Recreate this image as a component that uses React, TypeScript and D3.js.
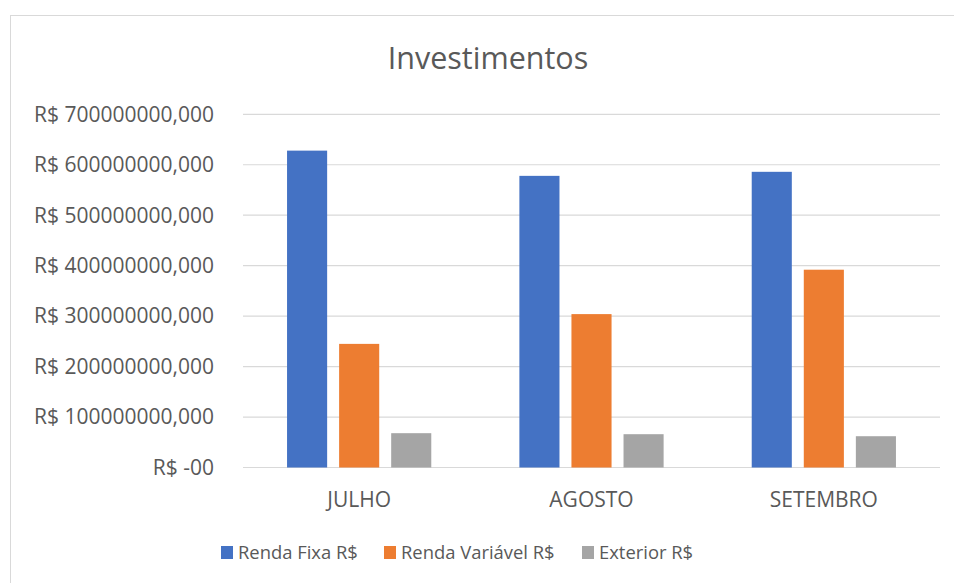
import React, { useEffect, useRef } from 'react';
import * as d3 from 'd3';

const months = ['JULHO', 'AGOSTO', 'SETEMBRO'];
const seriesNames = ['Renda Fixa R$', 'Renda Variável R$', 'Exterior R$'];
const rendaFixa = [628000000, 578000000, 586000000];
const rendaVariavel = [245000000, 304000000, 392000000];
const exterior = [68000000, 66000000, 62000000];
const yTicks = [0, 100000000, 200000000, 300000000, 400000000, 500000000, 600000000, 700000000];
const colors = ['#4472C4', '#ED7D31', '#A5A5A5'];

const W = 954;
const H = 583;
const FONT = 'Open Sans, sans-serif';

function fmt(v: number) {
  return v === 0 ? 'R$ -00' : 'R$ ' + v + ',000';
}

export default function App() {
  const ref = useRef<SVGSVGElement>(null);

  useEffect(() => {
    document.body.style.margin = '0';
    const svg = d3.select(ref.current);
    svg.selectAll('*').remove();

    const series = [rendaFixa, rendaVariavel, exterior];
    const left = 243, right = 940, top = 114.3, bottom = 467.5;

    // chart frame (runs off the picture on the right and bottom)
    svg.append('rect')
      .attr('x', 10.5).attr('y', 15.5)
      .attr('width', 960).attr('height', 600)
      .attr('fill', '#fff').attr('stroke', '#d9d9d9').attr('stroke-width', 1);

    const y = d3.scaleLinear().domain([0, 700000000]).range([bottom, top]);
    const x0 = d3.scaleBand().domain(months).range([left, right]).padding(0);
    const x1 = d3.scaleBand<number>().domain([0, 1, 2]).range([0, x0.bandwidth()])
      .paddingInner(0.23).paddingOuter(0.846);

    // gridlines
    svg.append('g').selectAll('line').data(yTicks).join('line')
      .attr('x1', left).attr('x2', right)
      .attr('y1', d => y(d)).attr('y2', d => y(d))
      .attr('stroke', '#d9d9d9').attr('stroke-width', 1.2);

    // y labels
    svg.append('g').selectAll('text').data(yTicks).join('text')
      .attr('x', 214).attr('y', d => y(d)).attr('dy', '0.35em')
      .attr('text-anchor', 'end')
      .attr('font-family', FONT).attr('font-size', 21).attr('fill', '#595959')
      .text(d => fmt(d));

    // bars
    const g = svg.append('g');
    months.forEach((m, i) => {
      series.forEach((s, k) => {
        g.append('rect')
          .attr('x', (x0(m) as number) + (x1(k) as number))
          .attr('y', y(s[i]))
          .attr('width', x1.bandwidth())
          .attr('height', bottom - y(s[i]))
          .attr('fill', colors[k]);
      });
    });

    // x labels
    svg.append('g').selectAll('text').data(months).join('text')
      .attr('x', d => (x0(d) as number) + x0.bandwidth() / 2)
      .attr('y', 507)
      .attr('text-anchor', 'middle')
      .attr('font-family', FONT).attr('font-size', 21).attr('fill', '#595959')
      .text(d => d);

    // title
    svg.append('text')
      .attr('x', 488).attr('y', 68.5)
      .attr('text-anchor', 'middle')
      .attr('font-family', FONT).attr('font-size', 30.5).attr('fill', '#595959')
      .text('Investimentos');

    // legend
    const legendX = [221, 384, 582];
    const lg = svg.append('g');
    seriesNames.forEach((n, k) => {
      lg.append('rect').attr('x', legendX[k]).attr('y', 546)
        .attr('width', 12).attr('height', 13).attr('fill', colors[k]);
      lg.append('text').attr('x', legendX[k] + 17).attr('y', 559)
        .attr('font-family', FONT).attr('font-size', 18.4).attr('fill', '#595959')
        .text(n);
    });
  }, []);

  return <svg ref={ref} width={W} height={H} style={{ display: 'block' }} />;
}
